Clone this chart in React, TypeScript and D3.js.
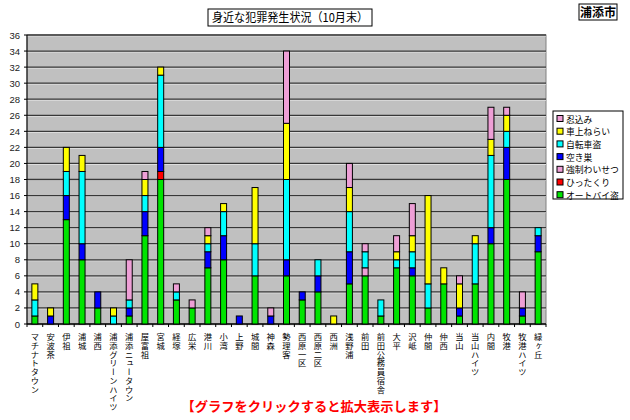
import React from 'react';
import { scaleBand, scaleLinear, stack, range } from 'd3';

// 地区
const areas = [
  'マチナトタウン', '安波茶', '伊祖', '浦城', '浦西', '浦添グリーンハイツ', '浦添ニュータウン',
  '屋富祖', '宮城', '経塚', '広栄', '港川', '小湾', '上野', '城間', '神森', '勢理客',
  '西原一区', '西原二区', '西洲', '浅野浦', '前田', '前田公務員宿舎', '大平', '沢岻',
  '仲間', '仲西', '当山', '当山ハイツ', '内間', '牧港', '牧港ハイツ', '緑ヶ丘',
];

// series, bottom of stack first
const bikeTheft = [1, 0, 13, 8, 2, 0, 1, 11, 18, 3, 2, 7, 8, 0, 6, 0, 6, 3, 4, 0, 5, 6, 1, 7, 6, 2, 5, 1, 5, 10, 18, 1, 9];
const snatching = [0, 0, 0, 0, 0, 0, 0, 0, 1, 0, 0, 0, 0, 0, 0, 0, 0, 0, 0, 0, 0, 0, 0, 0, 0, 0, 0, 0, 0, 0, 0, 0, 0];
const indecency = [0, 0, 0, 0, 0, 0, 0, 0, 0, 0, 0, 0, 0, 0, 0, 0, 0, 0, 0, 0, 0, 1, 0, 0, 0, 0, 0, 0, 0, 0, 0, 0, 0];
const burglary = [0, 1, 3, 2, 2, 0, 1, 3, 3, 0, 0, 2, 3, 1, 0, 1, 2, 1, 2, 0, 4, 0, 0, 0, 1, 0, 0, 1, 0, 2, 4, 1, 2];
const bicycle = [2, 0, 3, 9, 0, 1, 1, 2, 9, 1, 0, 1, 3, 0, 4, 0, 10, 0, 2, 0, 5, 2, 2, 1, 2, 3, 0, 0, 5, 9, 2, 0, 1];
const carBreakIn = [2, 1, 3, 2, 0, 1, 0, 2, 1, 0, 0, 1, 1, 0, 7, 0, 7, 0, 0, 1, 3, 0, 0, 1, 2, 11, 2, 3, 1, 2, 2, 0, 0];
const nightBreakIn = [0, 0, 0, 0, 0, 0, 5, 1, 0, 1, 1, 1, 0, 0, 0, 1, 9, 0, 0, 0, 3, 1, 0, 2, 4, 0, 0, 1, 0, 4, 1, 2, 0];

const seriesKeys = ['bike', 'snatch', 'indecent', 'burglary', 'bicycle', 'car', 'night'];
const seriesNames = ['オートバイ盗', 'ひったくり', '強制わいせつ', '空き巣', '自転車盗', '車上ねらい', '忍込み'];
const seriesColors = ['#00e400', '#ff0000', '#ee9fd6', '#0000ff', '#00ffff', '#ffff00', '#ee9fd6'];

const yTicks = range(0, 37, 2);

const jp = '"Noto Sans CJK JP", sans-serif';

const left = 27, right = 546, top = 35, bottom = 324;

const App = () => {
  const rows = areas.map((a, i) => ({
    area: a,
    bike: bikeTheft[i], snatch: snatching[i], indecent: indecency[i], burglary: burglary[i],
    bicycle: bicycle[i], car: carBreakIn[i], night: nightBreakIn[i],
  }));
  const layers = stack().keys(seriesKeys)(rows as any);

  const x = scaleBand().domain(areas).range([left, right]);
  const y = scaleLinear().domain([0, 36]).range([bottom, top]);
  const bw = 6;

  return (
    <svg width={630} height={420} style={{ position: 'absolute', left: 0, top: 0, background: '#fff' }}>
      {/* plot area */}
      <rect x={left} y={top} width={right - left} height={bottom - top} fill="#c0c0c0" stroke="#808080" />
      {yTicks.map(t => (
        <g key={t}>
          <line x1={left} x2={right} y1={y(t) + 1} y2={y(t) + 1} stroke="#e0e0e0" strokeWidth={1} />
          <line x1={left} x2={right} y1={y(t)} y2={y(t)} stroke="#383838" strokeWidth={1.3} />
          <line x1={left - 3} x2={left} y1={y(t)} y2={y(t)} stroke="#000" />
          <text x={20} y={y(t) + 3.5} fontSize={9.5} fontFamily="Arial, 'Liberation Sans', sans-serif" textAnchor="end" fill="#222">{t}</text>
        </g>
      ))}
      <line x1={left} x2={left} y1={top} y2={bottom} stroke="#000" />
      <line x1={left} x2={right} y1={bottom} y2={bottom} stroke="#000" />
      {areas.map(a => (
        <line key={a} x1={x(a)!} x2={x(a)!} y1={bottom} y2={bottom + 3} stroke="#000" />
      ))}
      <line x1={right} x2={right} y1={bottom} y2={bottom + 3} stroke="#000" />

      {/* bars */}
      {layers.map((layer, li) => (
        <g key={layer.key} fill={seriesColors[li]}>
          {layer.map((d, i) => d[1] - d[0] > 0 && (
            <rect key={i} x={x(areas[i])! + x.bandwidth() / 2 - bw / 2} y={y(d[1])}
              width={bw} height={y(d[0]) - y(d[1])} stroke="#000" strokeWidth={1} />
          ))}
        </g>
      ))}

      {/* category labels, vertical writing */}
      {areas.map(a => (
        <text key={a} x={x(a)! + x.bandwidth() / 2} y={333} fontSize={8.3} fontFamily={jp}
          fill="#000" style={{ writingMode: 'vertical-rl', letterSpacing: '0.4px' }}>{a}</text>
      ))}

      {/* title */}
      <rect x={208} y={9} width={164} height={17} fill="#fff" stroke="#000" />
      <text x={290} y={22} fontSize={12} fontFamily={jp} textAnchor="middle" textLength={156} lengthAdjust="spacingAndGlyphs">身近な犯罪発生状況（10月末）</text>
      <rect x={579} y={4} width={38} height={16} fill="#fff" stroke="#000" />
      <text x={598} y={16.5} fontSize={12} fontFamily={jp} textAnchor="middle" fontWeight={700}>浦添市</text>

      {/* legend */}
      <rect x={553} y={111} width={70} height={88} fill="#fff" stroke="#000" />
      {seriesNames.slice().reverse().map((n, k) => {
        const ci = seriesNames.length - 1 - k;
        const ly = 119 + k * 12.7;
        return (
          <g key={n + k}>
            <rect x={557} y={ly - 3.5} width={6} height={6} fill={seriesColors[ci]} stroke="#000" />
            <text x={566} y={ly + 3.5} fontSize={8.8} fontFamily={jp} fill="#000">{n}</text>
          </g>
        );
      })}

      {/* footer */}
      <text x={314} y={411} fontSize={13} fontWeight={700} fontFamily={jp} fill="#ff0000" textAnchor="middle" textLength={265} lengthAdjust="spacingAndGlyphs">【グラフをクリックすると拡大表示します】</text>
    </svg>
  );
};

export default App;
